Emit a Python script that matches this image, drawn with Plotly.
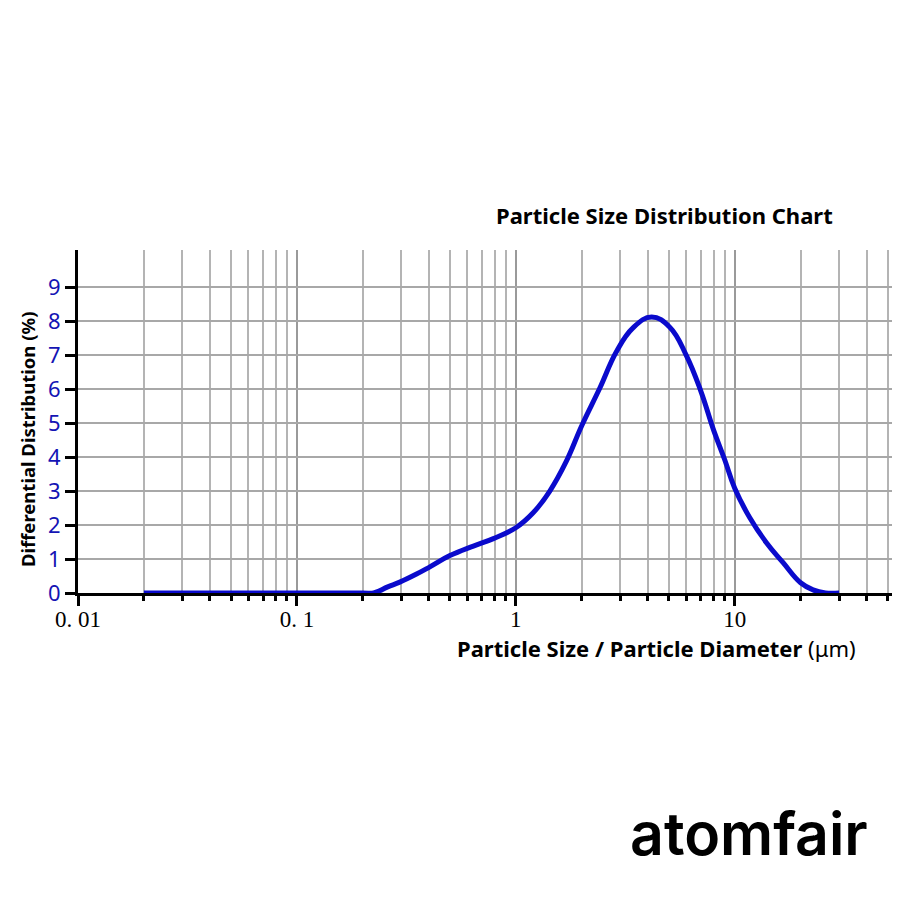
import plotly.graph_objects as go

# particle size (um) and differential distribution (%)
sizes = [0.02, 0.1, 0.2, 0.224, 0.26, 0.295, 0.35, 0.405, 0.5, 0.64, 0.79,
         1.0, 1.2, 1.43, 1.7, 2.0, 2.42, 2.88, 3.43, 4.17, 5.05, 6.0, 7.0,
         8.0, 9.0, 10.0, 11.7, 13.96, 16.6, 20, 22.8, 26, 30]
dist = [0, 0, 0, 0, 0.18, 0.32, 0.55, 0.77, 1.1, 1.38, 1.6,
        1.92, 2.36, 3.0, 3.87, 4.92, 6.03, 7.1, 7.8, 8.12, 7.82, 7.0, 5.94,
        4.8, 3.92, 3.08, 2.22, 1.48, 0.9, 0.3, 0.09, 0, 0]

x_ticks = [0.01, 0.1, 1, 10]
x_labels = ['0. 01', '0. 1', '1', '10']
y_ticks = list(range(10))
minor_x = [m * 10 ** e for e in range(-2, 2) for m in range(2, 10)]

fig = go.Figure()
fig.add_trace(go.Scatter(x=sizes, y=dist, mode='lines',
                         line=dict(color='#0a0acc', width=5, shape='spline', smoothing=1.2),
                         hoverinfo='skip'))

# page body has an 8px margin, so shift the plot area up/left by 8
fig.update_layout(
    width=900, height=900,
    margin=dict(l=70, r=8, t=242, b=315, autoexpand=False),
    plot_bgcolor='white', paper_bgcolor='white',
    showlegend=False,
    font=dict(family='Noto Sans', color='black'),
)

fig.update_xaxes(
    type='log', range=[-2, 1.755], automargin=False,
    tickvals=x_ticks, ticktext=x_labels,
    tickfont=dict(family='Liberation Serif', size=23, color='black'),
    ticks='outside', ticklen=10, tickwidth=3, tickcolor='black',
    ticklabelstandoff=-7,
    showline=True, linecolor='black', linewidth=3,
    showgrid=True, gridcolor='#9a9a9a', gridwidth=2,
    minor=dict(tickmode='array', tickvals=minor_x, ticks='outside', ticklen=5,
               tickwidth=3, tickcolor='black', showgrid=True,
               gridcolor='#b4b4b4', gridwidth=1.5),
    zeroline=False,
)

fig.update_yaxes(
    range=[0, 10.09], automargin=False,
    tickvals=y_ticks,
    tickfont=dict(family='Noto Sans', size=22, color='#1414b4'),
    ticks='outside', ticklen=10, tickwidth=2.5, tickcolor='black',
    showline=True, linecolor='black', linewidth=3,
    showgrid=True, gridcolor='#a8a8a8', gridwidth=1.5,
    zeroline=False,
)

pw, ph = 822, 343  # plot area size in px
fig.add_annotation(text='<b>Particle Size Distribution Chart</b>',
                   xref='paper', yref='paper', x=(664 - 78) / pw, y=1 + (250 - 215) / ph,
                   xanchor='center', yanchor='middle',
                   showarrow=False, font=dict(size=22, color='black'))
fig.add_annotation(text='<b>Particle Size / Particle Diameter</b> (μm)',
                   xref='paper', yref='paper', x=(656 - 78) / pw, y=-(648 - 593) / ph,
                   xanchor='center', yanchor='middle',
                   showarrow=False, font=dict(size=22, color='black'))
fig.add_annotation(text='<b>Differential Distribution (%)</b>', textangle=-90,
                   xref='paper', yref='paper', x=-(78 - 27) / pw, y=(593 - 440) / ph,
                   xanchor='center', yanchor='middle',
                   showarrow=False, font=dict(size=18.5, color='black'))
fig.add_annotation(text='atomfair',
                   xref='paper', yref='paper', x=(749 - 78) / pw, y=-(833 - 593) / ph,
                   xanchor='center', yanchor='middle',
                   showarrow=False, font=dict(family='Inter', size=59, weight=600, color='black'))

fig.write_html('out.html')
